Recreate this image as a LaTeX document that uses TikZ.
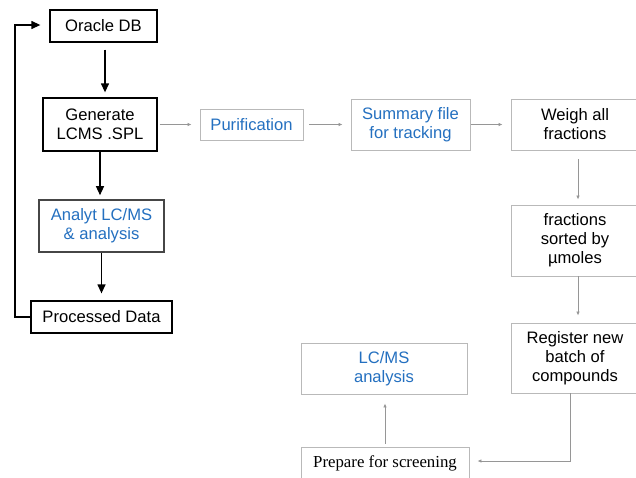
\documentclass[tikz,border=0pt]{standalone}
\usepackage{fontspec}
\setmainfont{Liberation Sans}
\newfontfamily\serifT{Liberation Serif}
\usetikzlibrary{arrows.meta}
\definecolor{blueT}{RGB}{36,112,192}
\definecolor{grayB}{RGB}{185,185,185}
\definecolor{grayL}{RGB}{150,150,150}
\definecolor{darkB}{RGB}{70,70,70}
\tikzset{
  base/.style={rectangle, inner sep=0pt, align=center, font=\fontsize{16.6}{19}\selectfont},
  blackbox/.style={base, draw=black, line width=1.3pt},
  darkbox/.style={base, draw=darkB, line width=1.6pt},
  graybox/.style={base, draw=grayB, line width=0.9pt},
  blk/.style={draw=black, line width=1.3pt, -{Triangle[length=9pt,width=8pt]}},
  gry/.style={draw=grayL, line width=0.8pt, -{Latex[length=4pt,width=3.5pt]}},
}
\begin{document}
\begin{tikzpicture}[x=1pt,y=-1pt]
\path[use as bounding box] (0,0) rectangle (636,477);
\clip (0,0) rectangle (636,477);
\fill[white] (0,0) rectangle (636,477);
% left column
\node[blackbox, minimum width=107, minimum height=32] (oracle) at (103.5,26) {Oracle DB};
\node[blackbox, minimum width=114, minimum height=53] (gen) at (100,124.5) {Generate\\LCMS .SPL};
\node[darkbox, minimum width=125, minimum height=52, text=blueT] (analyt) at (101.5,226) {Analyt LC/MS\\\& analysis};
\node[blackbox, minimum width=141, minimum height=32] (proc) at (101.5,317) {Processed Data};
% top row
\node[graybox, minimum width=103, minimum height=31, text=blueT] (pur) at (251.5,124.5) {Purification};
\node[graybox, minimum width=119, minimum height=51, text=blueT] (sum) at (410.5,124.5) {Summary file\\for tracking};
\node[graybox, minimum width=128, minimum height=51] (weigh) at (575,124.5) {Weigh all\\fractions};
% right column
\node[graybox, minimum width=128, minimum height=71] (sorted) at (575,240.5) {fractions\\sorted by\\µmoles};
\node[graybox, minimum width=128, minimum height=70] (reg) at (575,358) {Register new\\batch of\\compounds};
% bottom
\node[graybox, minimum width=166, minimum height=51, text=blueT] (lcms) at (384,368.5) {LC/MS\\analysis};
\node[graybox, minimum width=168, minimum height=32, font=\serifT\fontsize{16.8}{19}\selectfont] (prep) at (385,463) {Prepare for screening};
% black connectors
\draw[blk, shorten <=7pt, shorten >=5pt] (oracle.south -| 105,0) -- (gen.north -| 105,0);
\draw[blk, shorten <=0pt, shorten >=4pt] (gen.south) -- (analyt.north -| gen.south);
\draw[blk, shorten <=0pt, shorten >=7pt] (analyt.south) -- (proc.north -| analyt.south);
\coordinate (fbA) at (15,317);
\coordinate (fbB) at (15,25);
\draw[blk, shorten >=9pt] (proc.west) -- (fbA) -- (fbB) -- (oracle.west |- fbB);
% gray connectors
\draw[gry, shorten <=2pt, shorten >=8pt] (gen.east) -- (pur.west);
\draw[gry, shorten <=6pt, shorten >=8pt] (pur.east) -- (sum.west);
\draw[gry, shorten <=1pt, shorten >=8pt] (sum.east) -- (weigh.west);
\draw[gry, shorten <=9pt, shorten >=5pt] (weigh.south -| 578,0) -- (sorted.north -| 578,0);
\draw[gry, shorten <=0pt, shorten >=7pt] (sorted.south -| 578,0) -- (reg.north -| 578,0);
\coordinate (rp) at (570,461);
\draw[gry, shorten >=8pt] (reg.south -| rp) -- (rp) -- (prep.east |- rp);
\draw[gry, shorten <=3pt, shorten >=9pt] (prep.north) -- (lcms.south -| prep.north);
\end{tikzpicture}
\end{document}
